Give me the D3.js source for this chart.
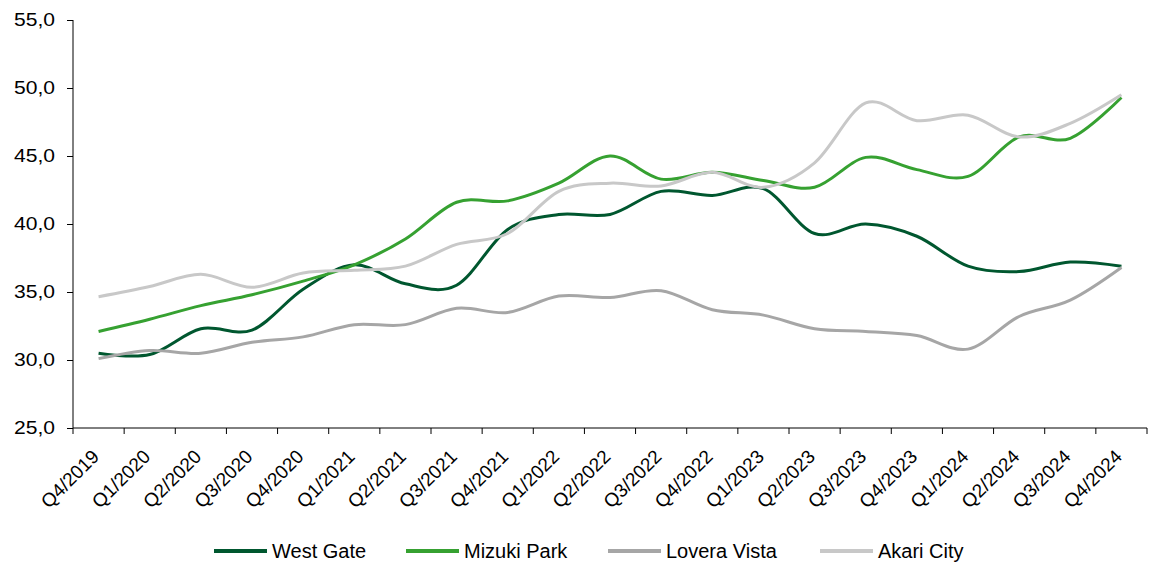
<!DOCTYPE html>
<html lang="en">
<head>
    <meta charset="UTF-8">
    <title>Quarterly index</title>
    <script src="https://cdnjs.cloudflare.com/ajax/libs/d3/7.8.5/d3.min.js"></script>
    <style>
        body {
            margin: 0;
            background: #ffffff;
            font-family: Arial, "Liberation Sans", sans-serif;
        }
        .axis text {
            font-family: Arial, "Liberation Sans", sans-serif;
            fill: #000;
        }
        .y-axis text { font-size: 18px; }
        .x-axis text { font-size: 19px; }
        .axis path, .axis line {
            stroke: #000;
            stroke-width: 1px;
        }
        .series {
            fill: none;
            stroke-width: 3px;
        }
        .legend text {
            font-size: 20px;
            fill: #000;
        }
    </style>
</head>
<body>
    <div id="chart"></div>
    <script>
        const quarters = ["Q4/2019", "Q1/2020", "Q2/2020", "Q3/2020", "Q4/2020",
            "Q1/2021", "Q2/2021", "Q3/2021", "Q4/2021", "Q1/2022", "Q2/2022",
            "Q3/2022", "Q4/2022", "Q1/2023", "Q2/2023", "Q3/2023", "Q4/2023",
            "Q1/2024", "Q2/2024", "Q3/2024", "Q4/2024"];

        const westGate = [30.5, 30.4, 32.3, 32.2, 35.2, 37.0, 35.6, 35.5, 39.6, 40.7, 40.7,
            42.4, 42.1, 42.6, 39.3, 40.0, 39.1, 36.9, 36.5, 37.2, 36.9];
        const mizukiPark = [32.1, 33.0, 34.0, 34.8, 35.8, 37.0, 38.9, 41.6, 41.7, 43.0, 45.0,
            43.3, 43.8, 43.2, 42.7, 44.9, 44.0, 43.5, 46.4, 46.3, 49.3];
        const loveraVista = [30.1, 30.7, 30.5, 31.3, 31.7, 32.6, 32.6, 33.8, 33.5, 34.7, 34.6,
            35.1, 33.7, 33.3, 32.3, 32.1, 31.8, 30.8, 33.2, 34.4, 36.8];
        const akariCity = [34.65, 35.4, 36.3, 35.35, 36.4, 36.6, 36.9, 38.5, 39.3, 42.4, 43.0,
            42.8, 43.8, 42.7, 44.5, 48.9, 47.6, 48.0, 46.4, 47.4, 49.5];

        const seriesNames = ["West Gate", "Mizuki Park", "Lovera Vista", "Akari City"];
        const seriesValues = [westGate, mizukiPark, loveraVista, akariCity];
        const colors = ["#00572f", "#36a131", "#a6a6a6", "#c8c8c8"];

        const yTicks = [25, 30, 35, 40, 45, 50, 55];

        const width = 1155, height = 563;
        const margin = {top: 20, right: 8, bottom: 135, left: 73};

        const svg = d3.select("#chart").append("svg")
            .attr("width", width)
            .attr("height", height);

        const x = d3.scaleBand()
            .domain(quarters)
            .range([margin.left, width - margin.right]);

        const y = d3.scaleLinear()
            .domain([25, 55])
            .range([height - margin.bottom, margin.top]);

        // x axis: ticks sit on band edges, labels at band centres
        const xAxis = svg.append("g")
            .attr("class", "axis x-axis")
            .attr("transform", `translate(0,${y(25)})`);

        xAxis.append("line")
            .attr("x1", x.range()[0]).attr("x2", x.range()[1]);

        xAxis.selectAll(".tick")
            .data(quarters.concat(["end"]))
            .enter().append("line")
            .attr("x1", (d, i) => x.range()[0] + i * x.bandwidth())
            .attr("x2", (d, i) => x.range()[0] + i * x.bandwidth())
            .attr("y1", 0).attr("y2", 6);

        xAxis.selectAll("text")
            .data(quarters)
            .enter().append("text")
            .attr("transform", d => `translate(${x(d) + x.bandwidth() / 2 + 1.7},29.7) rotate(-45)`)
            .attr("text-anchor", "end")
            .text(d => d);

        // y axis
        const yAxis = svg.append("g")
            .attr("class", "axis y-axis")
            .attr("transform", `translate(${margin.left},0)`)
            .call(d3.axisLeft(y)
                .tickValues(yTicks)
                .tickSize(6)
                .tickPadding(12)
                .tickFormat(d => d3.format(".1f")(d).replace(".", ",")));
        yAxis.select(".domain").attr("d", `M0,${y(55)}V${y(25)}`);

        // the source labels are drawn a little wider than normal
        yAxis.selectAll("text").each(function() {
            const w = this.getComputedTextLength();
            d3.select(this)
                .attr("textLength", w * 1.17)
                .attr("lengthAdjust", "spacingAndGlyphs");
        });

        const line = d3.line()
            .x((d, i) => x(quarters[i]) + x.bandwidth() / 2)
            .y(d => y(d))
            .curve(d3.curveCardinal.tension(0));

        svg.selectAll(".series")
            .data(seriesValues)
            .enter().append("path")
            .attr("class", "series")
            .attr("stroke", (d, i) => colors[i])
            .attr("d", line);

        // legend
        const legendX = [214, 406, 608, 820];
        const legend = svg.append("g")
            .attr("class", "legend")
            .attr("transform", "translate(0,551)");

        const item = legend.selectAll("g")
            .data(seriesNames)
            .enter().append("g")
            .attr("transform", (d, i) => `translate(${legendX[i]},0)`);

        item.append("line")
            .attr("x1", 0).attr("x2", 53)
            .attr("stroke", (d, i) => colors[i])
            .attr("stroke-width", 4);

        item.append("text")
            .attr("x", 58)
            .attr("dy", "0.35em")
            .text(d => d);
    </script>
</body>
</html>
